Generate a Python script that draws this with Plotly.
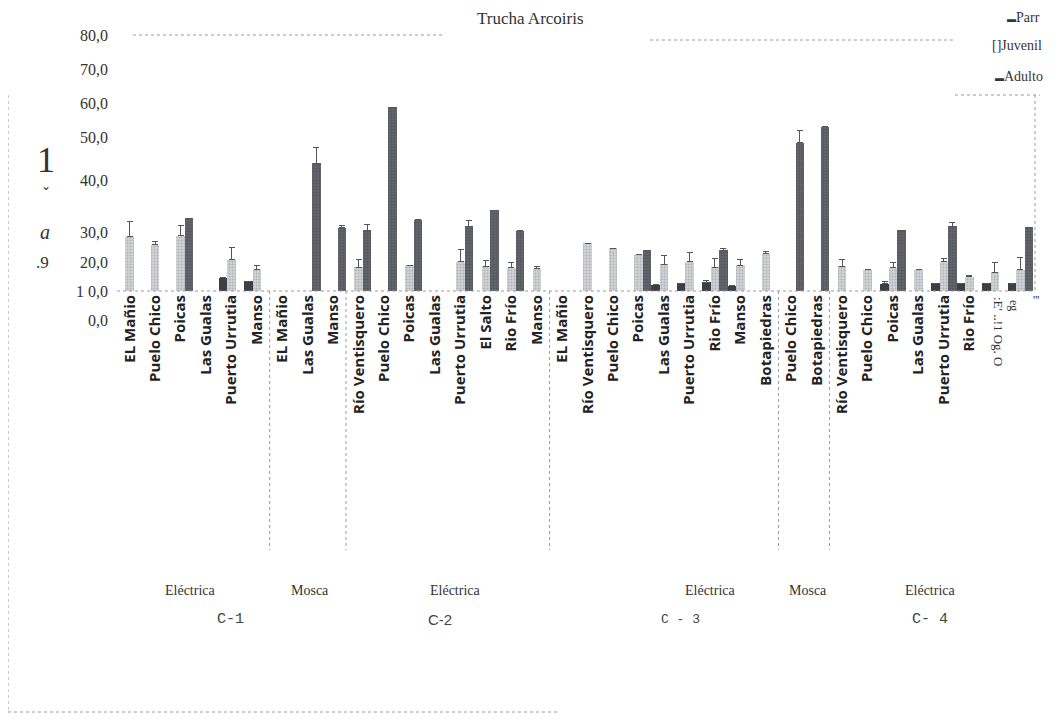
import plotly.graph_objects as go

# ---------------- data ----------------
CATEGORIES = [
    "EL Mañio", "Puelo Chico", "Poicas", "Las Gualas", "Puerto Urrutia", "Manso",
    "EL Mañio", "Las Gualas", "Manso",
    "Río Ventisquero", "Puelo Chico", "Poicas", "Las Gualas", "Puerto Urrutia", "El Salto", "Rio Frío", "Manso",
    "EL Mañio", "Río Ventisquero", "Puelo Chico", "Poicas", "Las Gualas", "Puerto Urrutia", "Rio Frío", "Manso", "Botapiedras",
    "Puelo Chico", "Botapiedras",
    "Río Ventisquero", "Puelo Chico", "Poicas", "Las Gualas", "Puerto Urrutia", "Rio Frío", "", "",
]
N = None
PARR = [N, N, N, N, 4.1, 3.1,
        N, N, N,
        N, N, N, N, N, N, N, N,
        N, N, N, N, 1.9, 2.5, 2.8, 1.6, N,
        N, N,
        N, N, 2.2, N, 2.5, 2.5, 2.5, 2.5]
PARR_ERR = [N, N, N, N, 0, 0,
            N, N, N,
            N, N, N, N, N, N, N, N,
            N, N, N, N, 0, 0, 0.6, 0, N,
            N, N,
            N, N, 0.9, N, 0, 0, 0, 0]
JUVENIL = [16.9, 14.4, 17.2, N, 9.7, 6.6,
           N, N, N,
           7.5, N, 8.1, N, 9.1, 7.8, 7.2, 6.9,
           N, 15.0, 13.4, 11.3, 8.4, 9.1, 7.5, 8.1, 11.6,
           N, N,
           7.8, 6.6, 7.2, 6.6, 9.1, 4.4, 5.9, 6.6]
JUV_ERR = [4.7, 1.2, 3.4, N, 3.8, 1.5,
           N, N, N,
           2.2, N, 0, N, 3.8, 1.6, 1.6, 0.9,
           N, 0, 0, 0, 2.8, 2.8, 2.8, 1.6, 0.6,
           N, N,
           1.9, 0, 1.6, 0, 1.2, 0.6, 3.1, 3.8]
ADULTO = [N, N, 22.8, N, N, N,
          N, 40.0, 19.7,
          19.0, 57.5, 22.2, N, 20.3, 25.3, 18.8, N,
          N, N, N, 12.8, N, N, 12.8, N, N,
          46.3, 51.3,
          N, N, 19.0, N, 20.3, N, N, 20.0]
ADU_ERR = [N, N, 0, N, N, N,
           N, 5.0, 0.9,
           1.9, 0, 0, N, 1.6, 0, 0, N,
           N, N, N, 0, N, N, 0.6, N, N,
           4.0, 0,
           N, N, 0, N, 1.2, N, N, 0]

Y_TICK_TEXT = ["80,0", "70,0", "60,0", "50,0", "40,0", "30,0", "20,0", "1 0,0", "0,0"]
Y_TICK_VALS = [80, 69.1, 58.75, 48.1, 34.7, 18.4, 9.06, 0, -9.06]

SEPARATORS = [5.5, 8.5, 16.5, 25.5, 27.5]
METHOD_LABELS = ["Eléctrica", "Mosca", "Eléctrica", "Eléctrica", "Mosca", "Eléctrica"]
CAMPAIGN_LABELS = ["C-1", "C-2", "C - 3", "C- 4"]

# ---------------- geometry helpers (layout only) ----------------
OFF = 8                      # page body margin
W, H = 1044, 706             # figure size (fits inside the 1060x722 window)
PL, PR, PT, PB = 117, 1033, 35, 320   # plot box in page pixels
L, T = PL - OFF, PT - OFF
R = W - (PR - OFF)
B = H - (PB - OFF)
PW, PH = W - L - R, H - T - B


def px(x):
    return (x - OFF - L) / PW


def py(y):
    return (H - B - (y - OFF)) / PH


x_idx = list(range(len(CATEGORIES)))
SERIF = "Liberation Serif"

fig = go.Figure()


def err(vals):
    return dict(type="data", array=[v if v is not None else 0 for v in vals],
                arrayminus=[0] * len(vals), symmetric=False,
                color="#555555", thickness=1, width=3)


fig.add_bar(x=x_idx, y=PARR, name="Parr", error_y=err(PARR_ERR),
            marker=dict(color="#3d3f44", line=dict(width=0)))
fig.add_bar(x=x_idx, y=JUVENIL, name="Juvenil", error_y=err(JUV_ERR),
            marker=dict(color="#d2d3d7", line=dict(width=0),
                        pattern=dict(shape=".", fgcolor="#8e9096", size=3, solidity=0.35)))
fig.add_bar(x=x_idx, y=ADULTO, name="Adulto", error_y=err(ADU_ERR),
            marker=dict(color="#62656d", line=dict(width=0),
                        pattern=dict(shape=".", fgcolor="#44464c", size=3, solidity=0.4)))

shapes = []
dot = dict(color="#9a9a9a", width=1, dash="dot")
# baseline
shapes.append(dict(type="line", xref="paper", yref="y", x0=0, x1=1, y0=0, y1=0, line=dot))
# group separators below the baseline
for s in SEPARATORS:
    shapes.append(dict(type="line", xref="x", yref="paper", x0=s, x1=s,
                       y0=py(291), y1=py(550), line=dot))
# frame lines of the scanned page
for (x0, y0, x1, y1) in [(133, 35, 445, 35), (650, 40, 955, 40), (955, 95, 1040, 95),
                         (1035, 95, 1035, 291), (8, 95, 8, 712), (8, 712, 560, 712)]:
    shapes.append(dict(type="line", xref="paper", yref="paper",
                       x0=px(x0), x1=px(x1), y0=py(y0), y1=py(y1), line=dot))

ann = []


def text(x, y, t, size=14, family=SERIF, color="#333333", angle=0, xanchor="center"):
    ann.append(dict(xref="paper", yref="paper", x=px(x), y=py(y), text=t, showarrow=False,
                    font=dict(size=size, family=family, color=color), textangle=angle,
                    xanchor=xanchor, yanchor="middle"))


text(530, 18, "Trucha Arcoiris", size=17)
text(1042, 17, "<span style='font-size:9px'>▬</span>Parr", size=14, xanchor="right")
text(1044, 45, "[]Juvenil", size=14, xanchor="right")
text(1045, 76, "<span style='font-size:9px'>▬</span>Adulto", size=14, xanchor="right")
# garbled axis title of the scan
text(46, 160, "1", size=36)
text(46, 186, "⌄", size=12, family="DejaVu Sans")
text(45, 232, "<i>a</i>", size=20)
text(42, 262, ".9", size=17)
# method / campaign labels
for xx, t in zip([190, 310, 455, 710, 808, 930], METHOD_LABELS):
    text(xx, 590, t, size=14)
for xx, t, fam, sz in zip([230, 440, 680, 930], CAMPAIGN_LABELS,
                          ["Liberation Mono", "Liberation Sans", "Liberation Mono", "Liberation Mono"],
                          [15, 15, 13, 15]):
    text(xx, 620, t, size=sz, family=fam, color="#444444")
# garbled last category labels
text(999, 332, ":E' ..!1 Og. O", size=13, angle=90)
text(1014, 305, "eg", size=12, angle=90)
text(1036, 300, "'''", size=12)

fig.update_layout(
    width=W, height=H,
    margin=dict(l=L, r=R, t=T, b=B, pad=0),
    paper_bgcolor="white", plot_bgcolor="white",
    barmode="group", bargap=0.0, bargroupgap=0,
    showlegend=False,
    shapes=shapes, annotations=ann,
    xaxis=dict(range=[-0.5, len(CATEGORIES) - 0.5], tickmode="array", tickvals=x_idx,
               ticktext=CATEGORIES, tickangle=-90, showgrid=False, zeroline=False,
               showline=False, ticks="", anchor="free", position=py(291),
               tickfont=dict(family="Open Sans", size=15, color="#222222", weight="bold")),
    yaxis=dict(range=[-9.06, 80], tickmode="array", tickvals=Y_TICK_VALS, ticktext=Y_TICK_TEXT,
               showgrid=False, zeroline=False, showline=False, ticks="",
               tickfont=dict(family=SERIF, size=16, color="#333333"), ticklabelstandoff=8),
)

fig.write_html("out.html")
